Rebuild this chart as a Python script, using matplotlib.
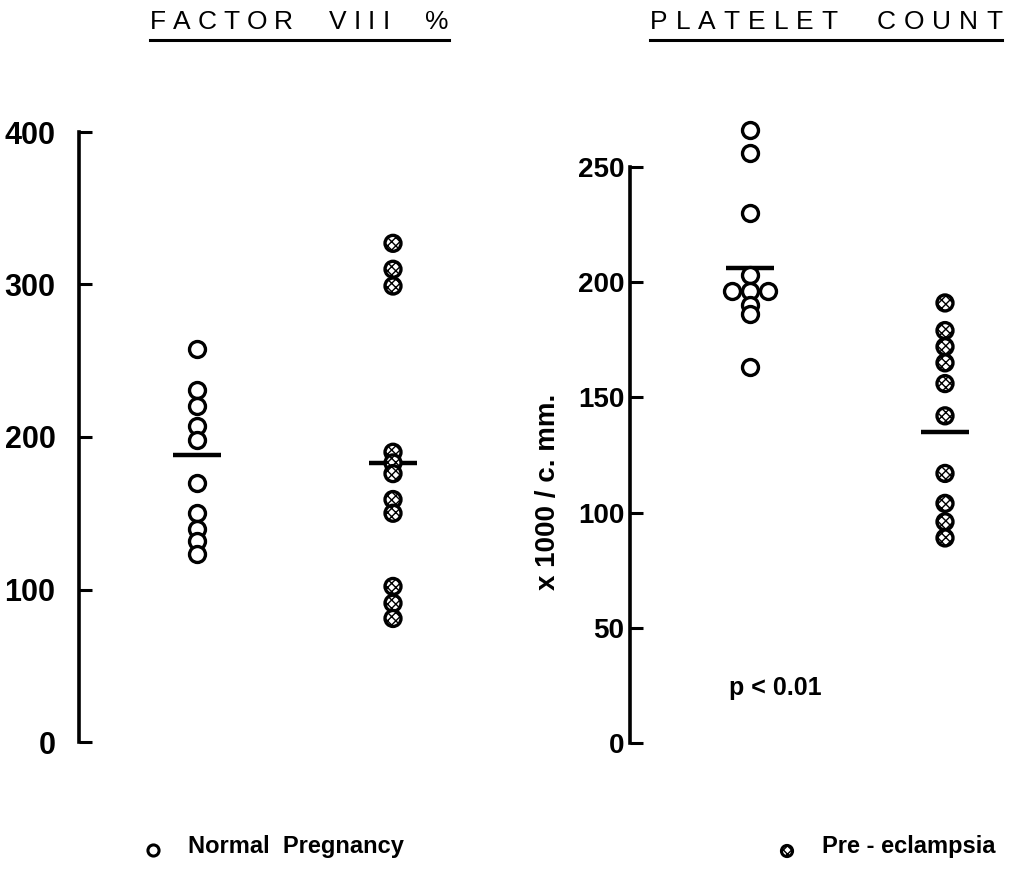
import matplotlib
matplotlib.use("Agg")
import matplotlib.pyplot as plt
from matplotlib.lines import Line2D

plt.rcParams['font.family'] = ['Liberation Sans', 'DejaVu Sans']
plt.rcParams['hatch.linewidth'] = 1.0

# ---- data -------------------------------------------------------------
groups = ["Normal  Pregnancy", "Pre - eclampsia"]

factor8_normal = [258, 231, 220, 207, 198, 170, 150, 140, 132, 123]
factor8_pre = [327, 310, 299, 190, 183, 176, 159, 150, 102, 91, 81]
factor8_lines = [188, 183]

platelet_normal = [266, 256, 230, 203, 196, 196, 196, 190, 186, 163]
platelet_normal_shift = [0, 0, 0, 0, -1, 0, 1, 0, 0, 0]
platelet_pre = [191, 179, 172, 165, 156, 142, 117, 104, 96, 89]
platelet_lines = [206, 135]

factor8_ticks = [0, 100, 200, 300, 400]
platelet_ticks = [0, 50, 100, 150, 200, 250]

title_left = "FACTOR  VIII  %"
title_right = "PLATELET  COUNT"
platelet_ylabel = "x 1000 / c. mm."
p_text = "p < 0.01"

# ---- figure ---------------------------------------------------------------
W, H = 1016, 875
fig = plt.figure(figsize=(W / 100, H / 100), dpi=100)
fig.patch.set_facecolor("white")


def px_rect(x0, y_top, x1, y_bot):
    return [x0 / W, 1 - y_bot / H, (x1 - x0) / W, (y_bot - y_top) / H]


MS = 11.5
MEW = 2.4


def open_pts(ax, x, ys, shifts=None):
    shifts = shifts or [0] * len(ys)
    xs = [x + s * 18 for s in shifts]
    ax.plot(xs, ys, linestyle="none", marker="o", ms=MS, mew=MEW,
            mfc="white", mec="black", clip_on=False, zorder=3)


def hatched_pts(ax, x, ys):
    ax.scatter([x] * len(ys), ys, s=MS ** 2, marker="o", facecolors="white",
               edgecolors="black", linewidths=MEW, hatch="xxxx",
               clip_on=False, zorder=3)


def mean_bar(ax, x, y):
    ax.plot([x - 24, x + 24], [y, y], color="black", lw=3.2,
            solid_capstyle="butt", clip_on=False, zorder=2)


def style_axis(ax, ticks, top, label_size, pad):
    ax.set_ylim(0, top)
    for s in ["top", "right", "bottom"]:
        ax.spines[s].set_visible(False)
    ax.spines["left"].set_linewidth(2.6)
    ax.spines["left"].set_bounds(ticks[0], ticks[-1])
    ax.set_yticks(ticks)
    ax.set_xticks([])
    ax.tick_params(axis="y", direction="in", length=9, width=2.2,
                   labelsize=label_size, pad=pad)
    for lbl in ax.get_yticklabels():
        lbl.set_fontweight("bold")
    ax.patch.set_alpha(0)


# Factor VIII panel
axL = fig.add_axes(px_rect(79, 132, 520, 742))
axL.set_xlim(0, 441)
style_axis(axL, factor8_ticks, 400, 22, 17)
open_pts(axL, 118, factor8_normal)
hatched_pts(axL, 314, factor8_pre)
mean_bar(axL, 118, factor8_lines[0])
mean_bar(axL, 314, factor8_lines[1])

# Platelet panel
axR = fig.add_axes(px_rect(630, 167, 1016, 743))
axR.set_xlim(0, 386)
style_axis(axR, platelet_ticks, 250, 20, 4)
open_pts(axR, 120, platelet_normal, platelet_normal_shift)
hatched_pts(axR, 315, platelet_pre)
mean_bar(axR, 120, platelet_lines[0])
mean_bar(axR, 315, platelet_lines[1])

fig.text(548 / W, 1 - 492 / H, platelet_ylabel, rotation=90, ha="center",
         va="center", fontsize=20, fontweight="bold")
fig.text(775 / W, 1 - 688 / H, p_text, ha="center", va="center",
         fontsize=18, fontweight="bold")

# Letter-spaced titles with underline
fig.canvas.draw()
renderer = fig.canvas.get_renderer()


def tracked_title(x_start, y_px, s, tracking, size):
    x = x_start
    for ch in s:
        t = fig.text(x / W, 1 - y_px / H, ch, ha="left", va="center",
                     fontsize=size)
        if ch == " ":
            w = size * 100 / 72 * 0.28
        else:
            w = t.get_window_extent(renderer).width
        x += w + tracking
    x_end = x - tracking
    y_line = 1 - (y_px + 18) / H
    fig.add_artist(Line2D([x_start / W, x_end / W], [y_line, y_line],
                          color="black", lw=2.2, transform=fig.transFigure))


tracked_title(150, 22, title_left, 7, 19)
tracked_title(650, 22, title_right, 8, 19)

# Legend
fig.add_artist(Line2D([153 / W], [1 - 850 / H], marker="o", ms=8, mew=2.2,
                      mfc="white", mec="black", transform=fig.transFigure))
fig.text(188 / W, 1 - 846 / H, groups[0], ha="left", va="center",
         fontsize=17, fontweight="bold")
legend_ax = fig.add_axes([0, 0, 1, 1])
legend_ax.set_xlim(0, W)
legend_ax.set_ylim(H, 0)
legend_ax.axis("off")
legend_ax.scatter([787], [851], s=8 ** 2, marker="o", facecolors="white",
                  edgecolors="black", linewidths=2.2, hatch="xxxx")
fig.text(822 / W, 1 - 846 / H, groups[1], ha="left", va="center",
         fontsize=17, fontweight="bold")

fig.savefig("out.png", dpi=100, facecolor="white")
